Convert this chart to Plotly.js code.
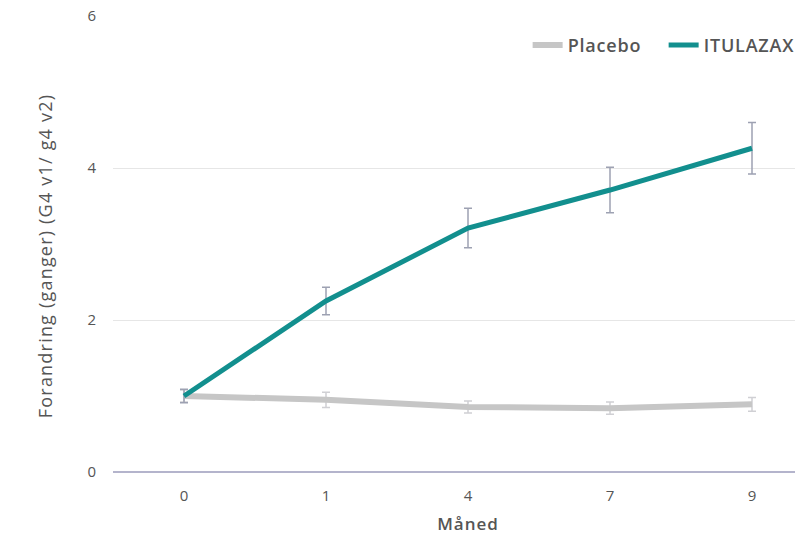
<!DOCTYPE html>
<html>
<head>
<meta charset="utf-8">
<script src="https://cdn.plot.ly/plotly-3.0.1.min.js"></script>
<style>
html,body{margin:0;padding:0;overflow:hidden;background:#fff;}
#chart{width:900px;height:538px;}
</style>
</head>
<body>
<div id="chart"></div>
<script>
const months = ["0", "1", "4", "7", "9"];
const placeboValues = [1.0, 0.95, 0.855, 0.84, 0.89];
const placeboErrors = [0.08, 0.1, 0.08, 0.08, 0.09];
const itulazaxValues = [1.0, 2.25, 3.21, 3.71, 4.26];
const itulazaxErrors = [0.09, 0.18, 0.26, 0.30, 0.34];
const seriesNames = ["Placebo", "ITULAZAX"];

const traces = [
  {
    x: months, y: placeboValues, name: seriesNames[0], type: "scatter", mode: "lines",
    line: {color: "#c6c6c6", width: 6},
    error_y: {type: "data", array: placeboErrors, visible: true, color: "#d0d0d4", thickness: 1.5, width: 4}
  },
  {
    x: months, y: itulazaxValues, name: seriesNames[1], type: "scatter", mode: "lines",
    line: {color: "#128f8e", width: 5},
    error_y: {type: "data", array: itulazaxErrors, visible: true, color: "#9da1b2", thickness: 1.5, width: 4}
  }
];

const layout = {
  width: 900, height: 538,
  margin: {l: 113, r: 77, t: 16, b: 66},
  paper_bgcolor: "#fff", plot_bgcolor: "#fff",
  font: {family: "'Open Sans', sans-serif", color: "#555"},
  showlegend: true,
  legend: {
    orientation: "h", x: 0.584, xanchor: "left", y: 0.936, yanchor: "middle",
    font: {size: 18, color: "#555", weight: 600}, itemwidth: 30, bgcolor: "rgba(0,0,0,0)",
    entrywidth: 91, entrywidthmode: "pixels"
  },
  xaxis: {
    type: "category", range: [-0.5, 4.5],
    showgrid: false, zeroline: false, showline: false, ticks: "",
    tickfont: {size: 15, color: "#555"}, ticklabelstandoff: 13,
    title: {text: "Måned", font: {size: 17, color: "#555", weight: 600}, standoff: 14}
  },
  yaxis: {
    range: [0, 6], tickvals: [0, 2, 4, 6], ticktext: ["0", "2", "4", "6"],
    showgrid: true, gridcolor: "#e6e6e6", gridwidth: 1,
    zeroline: true, zerolinecolor: "#b4b4cc", zerolinewidth: 1.5,
    showline: false, ticks: "",
    tickfont: {size: 15, color: "#555"}, ticklabelstandoff: 16,
    title: {text: "Forandring (ganger) (G4 v1/ g4 v2)", font: {size: 18, color: "#555"}, standoff: 30}
  }
};

Plotly.newPlot("chart", traces, layout, {displayModeBar: false, staticPlot: true}).then(function (gd) {
  gd.querySelectorAll(".ytitle").forEach(function (el) {
    el.style.letterSpacing = "1.2px";
    var t = el.getAttribute("transform") || "";
    el.setAttribute("transform", "translate(0,12) " + t);
  });
  gd.querySelectorAll(".xtitle").forEach(function (el) { el.style.letterSpacing = "1px"; });
  gd.querySelectorAll(".legendtext").forEach(function (el) { el.style.letterSpacing = "0.8px"; });
});
</script>
</body>
</html>
